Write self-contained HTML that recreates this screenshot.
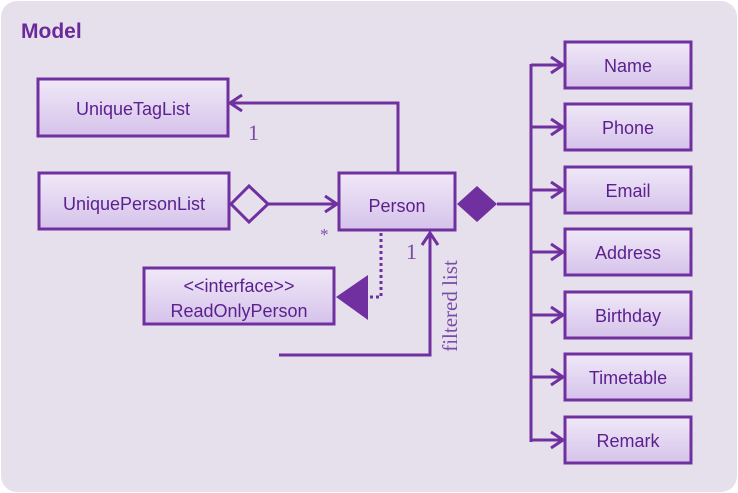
<!DOCTYPE html>
<html><head><meta charset="utf-8"><style>
html,body{margin:0;padding:0;background:#fff;}
svg{display:block;}
text{font-family:"Liberation Sans","DejaVu Sans",sans-serif;fill:#5b1f8e;}
.s{font-family:"Liberation Serif",serif;fill:#7a4aa8;}
</style></head><body>
<svg width="738" height="493" viewBox="0 0 738 493" xmlns="http://www.w3.org/2000/svg">
<defs>
<linearGradient id="g" x1="0" y1="0" x2="0" y2="1">
<stop offset="0" stop-color="#f0e9f8"/><stop offset="1" stop-color="#d5c2ea"/>
</linearGradient>
</defs>
<rect x="1" y="1" width="736" height="491" rx="16" fill="#e6e0ec"/>
<text x="21" y="38" font-size="21" font-weight="bold" style="fill:#6a2a9a">Model</text>
<g fill="url(#g)" stroke="#7030a0" stroke-width="3">
<rect x="38" y="79" width="190" height="57"/>
<rect x="39" y="173" width="190" height="56"/>
<rect x="339" y="173" width="116" height="57"/>
<rect x="144" y="268" width="190" height="56"/>
<rect x="565" y="42" width="126" height="46"/>
<rect x="565" y="104" width="126" height="46"/>
<rect x="565" y="167" width="126" height="46"/>
<rect x="565" y="229" width="126" height="46"/>
<rect x="565" y="292" width="126" height="46"/>
<rect x="565" y="354" width="126" height="46"/>
<rect x="565" y="417" width="126" height="46"/>
</g>
<g font-size="18" text-anchor="middle">
<text x="133" y="115">UniqueTagList</text>
<text x="134" y="210">UniquePersonList</text>
<text x="397" y="212">Person</text>
<text x="239" y="292">&lt;&lt;interface&gt;&gt;</text>
<text x="239" y="317">ReadOnlyPerson</text>
<text x="628" y="72">Name</text>
<text x="628" y="134">Phone</text>
<text x="628" y="197">Email</text>
<text x="628" y="259">Address</text>
<text x="628" y="322">Birthday</text>
<text x="628" y="384">Timetable</text>
<text x="628" y="447">Remark</text>
</g>
<g stroke="#7030a0" stroke-width="3" fill="none">
<polyline points="398,173 398,103 230,103"/>
<polyline points="242,95 230,103 242,111"/>
<polygon points="231,204 249,186 268,204 249,222"/>
<line x1="268" y1="204" x2="337" y2="204"/>
<polyline points="325,196 337,204 325,212"/>
<polyline points="279,355 430,355 430,233"/>
<polyline points="422,245 430,233 438,245"/>
<polyline points="497,204 531,204"/>
<line x1="531" y1="64" x2="531" y2="442"/>
<g>
<line x1="531" y1="65" x2="563" y2="65"/><polyline points="551,57 563,65 551,73"/>
<line x1="531" y1="127" x2="563" y2="127"/><polyline points="551,119 563,127 551,135"/>
<line x1="531" y1="190" x2="563" y2="190"/><polyline points="551,182 563,190 551,198"/>
<line x1="531" y1="252" x2="563" y2="252"/><polyline points="551,244 563,252 551,260"/>
<line x1="531" y1="315" x2="563" y2="315"/><polyline points="551,307 563,315 551,323"/>
<line x1="531" y1="377" x2="563" y2="377"/><polyline points="551,369 563,377 551,385"/>
<line x1="531" y1="440" x2="563" y2="440"/><polyline points="551,432 563,440 551,448"/>
</g>
<polyline points="381,233 381,297 368,297" stroke-dasharray="3,3"/>
</g>
<polygon points="457,204 477,186 497,204 477,222" fill="#7030a0"/>
<polygon points="336,297 368,275 368,320" fill="#7030a0"/>
<text class="s" x="248" y="140" font-size="22">1</text>
<text class="s" x="320" y="240" font-size="17">*</text>
<text class="s" x="406" y="259" font-size="22">1</text>
<text class="s" x="457" y="306" font-size="21" text-anchor="middle" transform="rotate(-90 457 306)">filtered list</text>
</svg>
</body></html>
